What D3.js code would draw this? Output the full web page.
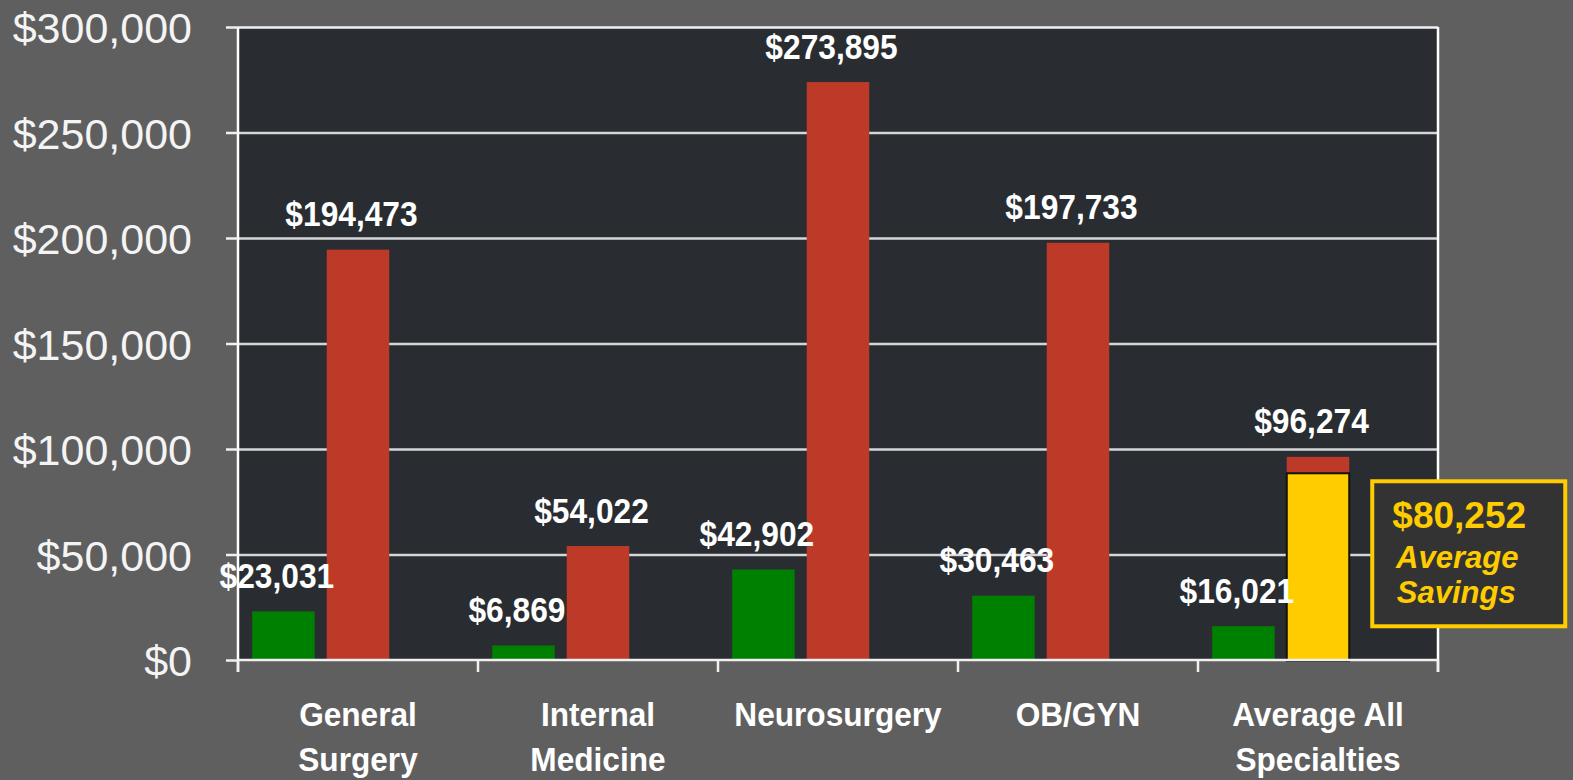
<!DOCTYPE html>
<html>
<head>
<meta charset="utf-8">
<script src="https://cdn.jsdelivr.net/npm/d3@7"></script>
<style>
  html, body { margin: 0; padding: 0; background: #5f5f5f; }
  svg { display: block; }
  text { font-family: "Liberation Sans", Arial, Helvetica, sans-serif; }
</style>
</head>
<body>
<svg id="chart" width="1573" height="780"></svg>
<script>
// ---- data ----
const categories = [["General", "Surgery"], ["Internal", "Medicine"], ["Neurosurgery"], ["OB/GYN"], ["Average All", "Specialties"]];
const greenValues = [23031, 6869, 42902, 30463, 16021];
const redValues = [194473, 54022, 273895, 197733, 96274];
const savingsBarTop = 88500;          // height of yellow overlay bar in the last group
const savingsLabel = ["$80,252", "Average", "Savings"];
const yTicks = [0, 50000, 100000, 150000, 200000, 250000, 300000];

// ---- layout ----
const W = 1573, H = 780;
const plot = { left: 238, right: 1438, top: 27, bottom: 660 };
const svg = d3.select("#chart");

const catKeys = categories.map((c, i) => i);
const x = d3.scaleBand().domain(catKeys).range([plot.left, plot.right]).padding(0);
const slot = d3.scaleBand().domain(["green", "red", "none"]).range([0, x.bandwidth()])
  .paddingInner(0.162).paddingOuter(0.19);
const y = d3.scaleLinear().domain([0, 300000]).range([plot.bottom, plot.top]);
const fmt = v => "$" + d3.format(",")(v);

// plot background
svg.append("rect").attr("x", plot.left).attr("y", plot.top)
  .attr("width", plot.right - plot.left).attr("height", plot.bottom - plot.top)
  .attr("fill", "#292d31");

// gridlines
const grid = svg.append("g").attr("transform", `translate(${plot.left},0)`)
  .call(d3.axisLeft(y).tickValues(yTicks.filter(t => t > 0)).tickSize(-(plot.right - plot.left)).tickFormat(""));
grid.select(".domain").remove();
grid.selectAll(".tick line").attr("stroke", d => d === 300000 ? "#f0f0f0" : "#d4d6d8").attr("stroke-width", 2.5);

// y axis
const yAxis = svg.append("g").attr("transform", `translate(${plot.left},0)`)
  .call(d3.axisLeft(y).tickValues(yTicks).tickSize(12).tickPadding(34).tickFormat(fmt));
yAxis.select(".domain").attr("stroke", "#ffffff").attr("stroke-width", 2.5)
  .attr("d", `M0,${plot.top}V${plot.bottom + 12}`);
yAxis.selectAll(".tick line").attr("stroke", "#f0f0f0").attr("stroke-width", 2.5);
yAxis.selectAll(".tick text").attr("fill", "#f4f4f4").attr("font-size", 43)
  .attr("dy", null).attr("y", 15.5);

// right border
svg.append("line").attr("x1", plot.right).attr("x2", plot.right)
  .attr("y1", plot.top).attr("y2", plot.bottom + 12).attr("stroke", "#ffffff").attr("stroke-width", 2.5);

// bars
const groups = svg.append("g").selectAll("g").data(catKeys).join("g")
  .attr("transform", d => `translate(${x(d)},0)`);

groups.append("rect")
  .attr("x", slot("green")).attr("width", slot.bandwidth())
  .attr("y", d => y(greenValues[d])).attr("height", d => y(0) - y(greenValues[d]))
  .attr("fill", "#008000");
groups.append("rect")
  .attr("x", slot("red")).attr("width", slot.bandwidth())
  .attr("y", d => y(redValues[d])).attr("height", d => y(0) - y(redValues[d]))
  .attr("fill", "#bd3a29");

// yellow overlay bar on the last group
const lastIdx = catKeys.length - 1;
svg.append("rect")
  .attr("x", x(lastIdx) + slot("red")).attr("width", slot.bandwidth())
  .attr("y", y(savingsBarTop)).attr("height", y(0) - y(savingsBarTop) + 1)
  .attr("fill", "#ffcc00").attr("stroke", "#111111").attr("stroke-width", 2);

// x axis
const xAxis = svg.append("g").attr("transform", `translate(0,${plot.bottom})`);
xAxis.append("line").attr("x1", plot.left).attr("x2", plot.right).attr("y1", 0).attr("y2", 0)
  .attr("stroke", "#f0f0f0").attr("stroke-width", 2.5);
const boundaries = catKeys.map(d => x(d)).concat([plot.right]);
xAxis.selectAll("line.tk").data(boundaries).join("line").attr("class", "tk")
  .attr("x1", d => d).attr("x2", d => d).attr("y1", 0).attr("y2", 12)
  .attr("stroke", "#f0f0f0").attr("stroke-width", 2.5);

// category labels
const catLabels = svg.append("g").selectAll("g").data(catKeys).join("g")
  .attr("transform", d => `translate(${x(d) + x.bandwidth() / 2},0) scale(0.93,1)`);
catLabels.each(function (d) {
  const g = d3.select(this);
  categories[d].forEach((line, i) => {
    g.append("text").attr("x", 0).attr("y", 726 + i * 45)
      .attr("text-anchor", "middle").attr("font-size", 34).attr("font-weight", "bold")
      .attr("fill", "#ffffff").text(line);
  });
});

// value labels
const labelData = [];
catKeys.forEach(d => {
  labelData.push({ cx: x(d) + slot("green") + slot.bandwidth() / 2, v: greenValues[d] });
  labelData.push({ cx: x(d) + slot("red") + slot.bandwidth() / 2, v: redValues[d] });
});
svg.append("g").selectAll("text").data(labelData).join("text")
  .attr("transform", d => `translate(${d.cx - 6.5},${y(d.v) - 23.5}) scale(0.92,1)`)
  .attr("text-anchor", "middle").attr("font-size", 34.5).attr("font-weight", "bold")
  .attr("fill", "#ffffff").text(d => fmt(d.v));

// savings callout box
const bx = x(lastIdx) + slot("red") + slot.bandwidth() + 21;
const by = y(savingsBarTop) + 6;
const bw = 197, bh = 149;
svg.append("rect").attr("x", bx + 2).attr("y", by + 2).attr("width", bw - 4).attr("height", bh - 4)
  .attr("fill", "#333333").attr("stroke", "#ffcc00").attr("stroke-width", 4);
const cx = bx + 89;
svg.append("text").attr("x", cx).attr("y", by + 49).attr("text-anchor", "middle")
  .attr("font-size", 37).attr("font-weight", "bold").attr("fill", "#ffcc00").text(savingsLabel[0]);
svg.append("text").attr("x", cx - 2).attr("y", by + 89).attr("text-anchor", "middle")
  .attr("font-size", 31).attr("font-weight", "bold").attr("font-style", "italic")
  .attr("fill", "#ffcc00").text(savingsLabel[1]);
svg.append("text").attr("x", cx - 3).attr("y", by + 124).attr("text-anchor", "middle")
  .attr("font-size", 31).attr("font-weight", "bold").attr("font-style", "italic")
  .attr("fill", "#ffcc00").text(savingsLabel[2]);
</script>
</body>
</html>
